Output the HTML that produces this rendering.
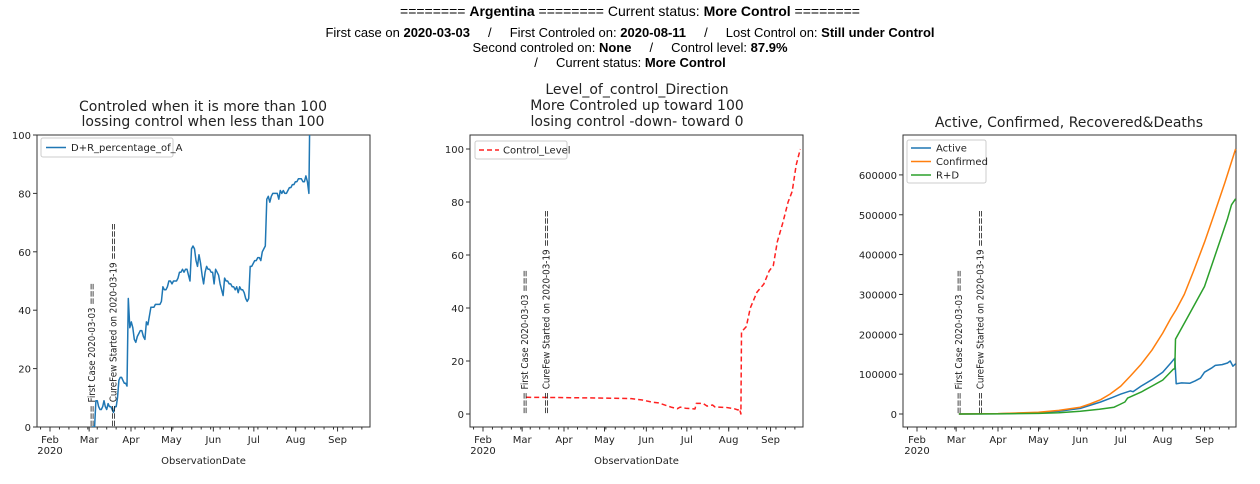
<!DOCTYPE html>
<html><head><meta charset="utf-8">
<style>
html,body{margin:0;padding:0;background:#fff;}
body{width:1260px;height:484px;overflow:hidden;position:relative;font-family:"Liberation Sans",Arial,sans-serif;}
.h{position:absolute;left:0;width:1260px;text-align:center;font-size:13px;color:#000;white-space:pre;}
svg{position:absolute;left:0;top:0;}
svg text{font-family:"DejaVu Sans",sans-serif;fill:#222;}
</style></head><body>
<div class="h" style="top:3px;font-size:14px;">======== <b>Argentina</b> ======== Current status: <b>More Control</b> ========</div>
<div class="h" style="top:25px;">First case on <b>2020-03-03</b>     /     First Controled on: <b>2020-08-11</b>     /     Lost Control on: <b>Still under Control</b></div>
<div class="h" style="top:40px;">Second controled on: <b>None</b>     /     Control level: <b>87.9%</b></div>
<div class="h" style="top:55px;">/     Current status: <b>More Control</b></div>
<svg id="s" width="1260" height="484" xmlns="http://www.w3.org/2000/svg"></svg>
<script>
var S=document.getElementById('s'),out='';
function ln(x1,y1,x2,y2,c,w){out+='<line x1="'+x1+'" y1="'+y1+'" x2="'+x2+'" y2="'+y2+'" stroke="'+(c||'#333')+'" stroke-width="'+(w||1)+'"/>';}
function tx(x,y,t,sz,anc,extra){out+='<text x="'+x+'" y="'+y+'" font-size="'+sz+'" text-anchor="'+(anc||'middle')+'" '+(extra||'')+'>'+t+'</text>';}
function path(pts,fx,fy,c,dash){var d='';pts.forEach(function(p,i){d+=(i?'L':'M')+fx(p[0]).toFixed(1)+','+fy(p[1]).toFixed(1);});
 out+='<path d="'+d+'" fill="none" stroke="'+c+'" stroke-width="1.5" '+(dash?'stroke-dasharray="5,3"':'')+' stroke-linejoin="round"/>';}
var months=[['Feb',0],['Mar',29],['Apr',60],['May',90],['Jun',121],['Jul',151],['Aug',182],['Sep',213]];
function axes(L,R,T,B,x0,yticks,fy,xl){
 out+='<rect x="'+L+'" y="'+T+'" width="'+(R-L)+'" height="'+(B-T)+'" fill="none" stroke="#333" stroke-width="1"/>';
 yticks.forEach(function(v){var y=fy(v);ln(L-4,y,L,y);tx(L-6,y+4,v,10,'end');});
 for(var d=-7;d<=245;d+=7){var x=x0+d*1.35;if(x>=L&&x<=R)ln(x,B,x,B+2.5);}
 months.forEach(function(m){var x=x0+m[1]*1.35;ln(x,B,x,B+4.5);tx(x,B+16,m[0],10);});
 tx(x0,B+27,'2020',10);
 if(xl)tx((L+R)/2,B+37,'ObservationDate',10);
}
function marks(x0,fy0){
 var x1=x0+31*1.35+3,x2=x0+47*1.35+3;
 out+='<text transform="translate('+x1+','+fy0+') rotate(-90)" font-size="10" textLength="144" lengthAdjust="spacingAndGlyphs">=== First Case 2020-03-03 ===</text>';
 out+='<text transform="translate('+x2+','+fy0+') rotate(-90)" font-size="10" textLength="204" lengthAdjust="spacingAndGlyphs">=== CureFew Started on 2020-03-19 =====</text>';
}
// Left chart
(function(){var x0=50,fx=function(d){if(d>58)d=58+(d-58)*1.115;return x0+d*1.35},fy=function(v){return 427-v*2.92};
 axes(37,370,135,427,x0,[0,20,40,60,80,100],fy,true);
 var p=[[31,0],[32,0],[33,0],[34,9],[35,9],[36,7],[37,6],[38,6],[39,7],[40,9],[41,7],[42,6],[43,8],[44,7],[45,7],[46,6],[47,5],[48,7],[49,7],[50,10],[51,16],[52,17],[53,17],[54,16],[55,15],[56,15],[57,14],[58,44],[59,34],[60,36],[61,34],[62,30],[63,29],[64,31],[65,32],[66,33],[67,33],[68,31],[69,30],[70,36],[71,35],[72,38],[73,41],[74,41],[75,41],[76,42],[77,42],[78,42],[79,42],[80,43],[81,48],[82,47],[83,47],[84,48],[85,50],[86,50],[87,49],[88,50],[89,50],[90,50],[91,51],[92,53],[93,53],[94,54],[95,53],[96,54],[97,54],[98,52],[99,50],[100,61],[101,62],[102,61],[103,57],[104,55],[105,59],[106,56],[107,52],[108,49],[109,53],[110,55],[111,54],[112,54],[113,53],[114,53],[115,49],[116,54],[117,53],[118,52],[119,49],[120,47],[121,45],[122,51],[123,50],[124,50],[125,49],[126,49],[127,48],[128,48],[129,47],[130,48],[131,46],[132,48],[133,47],[134,47],[135,46],[136,44],[137,43],[138,44],[139,55],[140,55],[141,56],[142,57],[143,57],[144,58],[145,58],[146,57],[147,60],[148,61],[149,62],[150,78],[151,79],[152,77],[153,79],[154,80],[155,80],[156,80],[157,80],[158,78],[159,81],[160,80],[161,81],[162,80],[163,80],[164,81],[165,82],[166,82],[167,83],[168,83],[169,84],[170,84],[171,85],[172,85],[173,85],[174,84],[175,84],[176,86],[177,84],[178,80],[178.5,104]];
 out+='<clipPath id="c1"><rect x="37" y="135" width="333" height="292"/></clipPath><g clip-path="url(#c1)">';
 path(p,fx,fy,'#1f77b4');out+='</g>';
 marks(x0,427);
 out+='<rect x="41" y="138" width="132" height="19" rx="2" fill="#fff" stroke="#ccc"/>';ln(46,147.5,66,147.5,'#1f77b4',1.5);tx(71,151,'D+R_percentage_of_A',10,'start');
 tx(203,111,'Controled when it is more than 100',14);tx(203,126,'lossing control when less than 100',14);
})();
// Middle chart
(function(){var x0=483,fx=function(d){return x0+d*1.35},fy=function(v){return 414-v*2.65};
 axes(470,803,135,427,x0,[0,20,40,60,80,100],fy,true);
 var p=[[32,6.3],[60,6.2],[90,6],[110,5.8],[118,5.3],[125,4.5],[130,4.2],[140,2.5],[144,2],[146,2.6],[150,2.2],[157,1.9],[158,4],[163,4],[166,3],[170,3.4],[172,2.6],[180,2.5],[186,2],[189,1.5],[190,2],[191,0],[191.5,31],[195,33],[198,40],[203,46],[208,49],[212,54],[215,56],[218,65],[222,72],[226,80],[229,84],[232,94],[235,100]];
 path(p,fx,fy,'#ff2020',true);
 marks(x0,414);
 out+='<rect x="475" y="141" width="92" height="18" rx="2" fill="#fff" stroke="#ccc"/>';
 out+='<line x1="479" y1="150" x2="499" y2="150" stroke="#ff2020" stroke-width="1.5" stroke-dasharray="5,3"/>';tx(503,153.5,'Control_Level',10,'start');
 tx(637,94,'Level_of_control_Direction',14);tx(637,110,'More Controled up toward 100',14);tx(637,126,'losing control -down- toward 0',14);
})();
// Right chart
(function(){var x0=917,fx=function(d){return x0+d*1.35},fy=function(v){return 414-v/100000*39.85};
 axes(903,1236,135,427,x0,[0,100000,200000,300000,400000,500000,600000],fy,false);
 var C=[[31,0],[60,1000],[90,4500],[105,9000],[121,17000],[128,25000],[136,36000],[143,50000],[151,70000],[158,95000],[166,125000],[174,160000],[182,203000],[188,240000],[192,262000],[198,300000],[205,360000],[213,431000],[220,500000],[228,580000],[236,665000]];
 var A=[[31,0],[60,800],[90,3000],[105,7000],[121,14000],[136,30000],[145,42000],[151,50000],[158,58000],[160,56000],[166,70000],[174,86000],[182,105000],[188,128000],[191,140000],[192,76000],[196,78000],[202,77000],[206,83000],[210,90000],[213,105000],[218,115000],[221,122000],[226,124000],[230,128000],[232,133000],[234,120000],[236,126000]];
 var D=[[31,0],[60,200],[90,1500],[105,3000],[121,7000],[135,12000],[146,17000],[151,25000],[154,30000],[156,40000],[166,55000],[174,70000],[182,85000],[190,113000],[191,113000],[191.5,188000],[200,240000],[213,320000],[220,390000],[226,450000],[230,490000],[233,525000],[236,540000]];
 path(A,fx,fy,'#1f77b4');path(C,fx,fy,'#ff7f0e');path(D,fx,fy,'#2ca02c');
 marks(x0,414);
 out+='<rect x="907" y="140" width="79" height="43" rx="2" fill="#fff" stroke="#ccc"/>';
 ln(911,148,931,148,'#1f77b4',1.5);tx(936,151.5,'Active',10,'start');
 ln(911,161.5,931,161.5,'#ff7f0e',1.5);tx(936,165,'Confirmed',10,'start');
 ln(911,175,931,175,'#2ca02c',1.5);tx(936,178.5,'R+D',10,'start');
 tx(1069,127,'Active, Confirmed, Recovered&amp;Deaths',14);
})();
S.innerHTML=out;
</script>
</body></html>
